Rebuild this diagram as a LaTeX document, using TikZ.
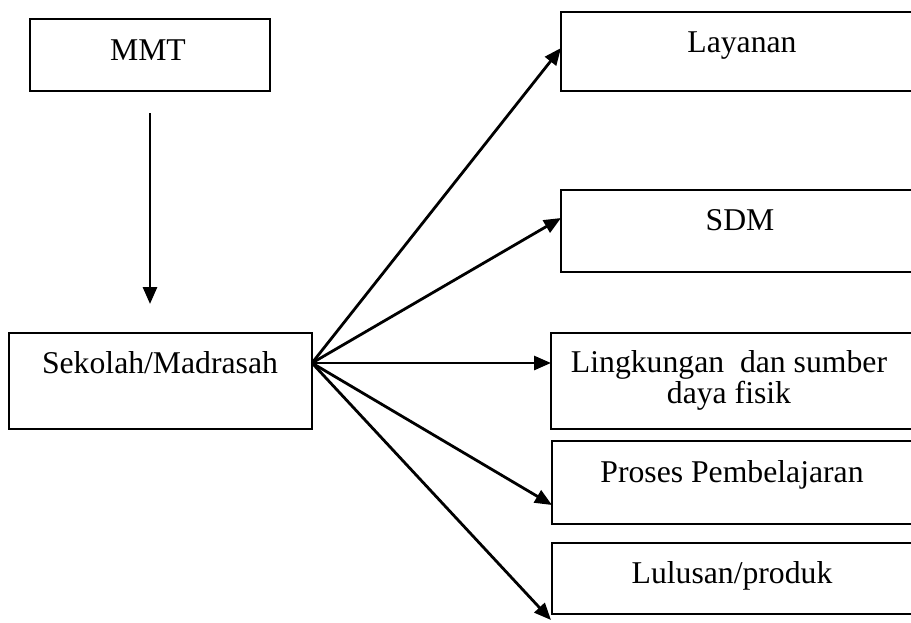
\documentclass[tikz,border=0pt]{standalone}
\usepackage{fontspec}
\setmainfont{Liberation Serif}
\usetikzlibrary{arrows.meta}
\begin{document}
\begin{tikzpicture}[x=1pt,y=-1pt,
  box/.style={draw=black,line width=2.8pt,rectangle,inner sep=0pt},
  txt/.style={anchor=base,inner sep=0pt,font=\fontsize{31.7}{31.7}\selectfont},
  arr/.style={line width=2.8pt,-{Triangle[length=17pt,width=14pt]}}]
\useasboundingbox (0,0) rectangle (911,622);
\clip (0,0) rectangle (911,622);
% boxes
\node[box,minimum width=240pt,minimum height=72pt] (mmt) at (150,55) {};
\node[box,minimum width=303pt,minimum height=96pt] (sek) at (160.5,381) {};
\node[box,minimum width=364pt,minimum height=79pt] (lay) at (743,51.5) {};
\node[box,minimum width=364pt,minimum height=82pt] (sdm) at (743,231) {};
\node[box,minimum width=364pt,minimum height=96pt] (lin) at (733,381) {};
\node[box,minimum width=363pt,minimum height=83pt] (pro) at (733.5,482.5) {};
\node[box,minimum width=363pt,minimum height=71pt] (lul) at (733.5,578.5) {};
% texts
\node[txt] (tmmt) at (148,60) {MMT};
\node[txt] (tsek) at (160,373) {Sekolah/Madrasah};
\node[txt] (tlay) at (742,52) {Layanan};
\node[txt] (tsdm) at (740,230) {SDM};
\node[txt] (tlin1) at (729,372) {Lingkungan\ \ dan sumber};
\node[txt] (tlin2) at (729,403.5) {daya fisik};
\node[txt] (tpro) at (732,482) {Proses Pembelajaran};
\node[txt] (tlul) at (732,583) {Lulusan/produk};
% connector ends
\coordinate (a0) at (150,113);
\coordinate (a1) at (150,304);
\coordinate (o) at (312,363);
\coordinate (t1) at (561,48);
\coordinate (t2) at (561,218);
\coordinate (t3) at (551,363);
\coordinate (t4) at (552,505);
\coordinate (t5) at (551,620);
\draw[arr] (a0) -- (a1);
\draw[arr] (o) -- (t1);
\draw[arr] (o) -- (t2);
\draw[arr] (o) -- (t3);
\draw[arr] (o) -- (t4);
\draw[arr] (o) -- (t5);
\end{tikzpicture}
\end{document}
